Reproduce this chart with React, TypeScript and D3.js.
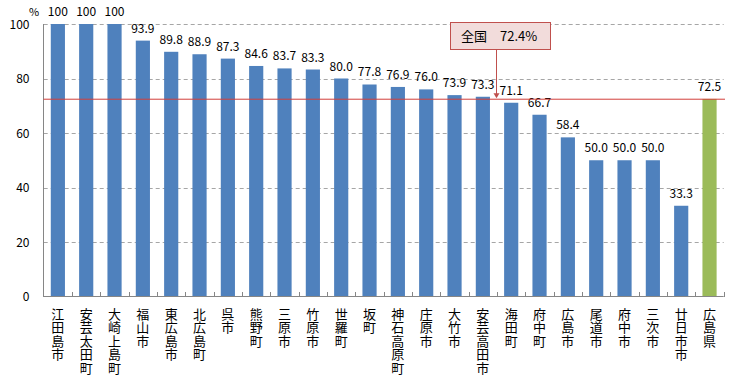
import React from "react";
import * as d3 from "d3";

const categories = [
  "江田島市", "安芸太田町", "大崎上島町", "福山市", "東広島市", "北広島町", "呉市", "熊野町",
  "三原市", "竹原市", "世羅町", "坂町", "神石高原町", "庄原市", "大竹市", "安芸高田市",
  "海田町", "府中町", "広島市", "尾道市", "府中市", "三次市", "廿日市市", "広島県",
];
const values = [
  100, 100, 100, 93.9, 89.8, 88.9, 87.3, 84.6, 83.7, 83.3, 80.0, 77.8, 76.9, 76.0, 73.9, 73.3,
  71.1, 66.7, 58.4, 50.0, 50.0, 50.0, 33.3, 72.5,
];
const valueLabels = [
  "100", "100", "100", "93.9", "89.8", "88.9", "87.3", "84.6", "83.7", "83.3", "80.0", "77.8",
  "76.9", "76.0", "73.9", "73.3", "71.1", "66.7", "58.4", "50.0", "50.0", "50.0", "33.3", "72.5",
];
const highlight = "広島県";
const nationalValue = 72.4;
const nationalLabel = "全国";
const yTicks = [0, 20, 40, 60, 80, 100];

const FONT = "'Noto Sans CJK JP', sans-serif";

export default function App() {
  const left = 43.7;
  const right = 723.7;
  const x = d3
    .scaleBand<string>()
    .domain(categories)
    .range([left, right])
    .paddingInner(0.5)
    .paddingOuter(0.25);
  const y = d3.scaleLinear().domain([0, 100]).range([296.5, 24]);
  const step = x.step();

  const ny = y(nationalValue);
  const boxX = 450.5, boxY = 22.5, boxW = 100, boxH = 27;
  const arrowX = 496.5;

  return (
    <div style={{ position: "absolute", left: 0, top: 0 }}>
      <svg width={756} height={379} style={{ display: "block", fontFamily: FONT }}>
        <rect x={0} y={0} width={756} height={379} fill="#fff" />
        {yTicks.filter((t) => t > 0).map((t) => (
          <line
            key={"g" + t}
            x1={left}
            x2={right}
            y1={Math.round(y(t)) + 0.5}
            y2={Math.round(y(t)) + 0.5}
            stroke="#a6a6a6"
            strokeDasharray="4,3"
          />
        ))}
        {yTicks.map((t) => (
          <text key={"yt" + t} x={29.5} y={y(t) + 4.5} textAnchor="end" fontSize={12} fill="#000">
            {t}
          </text>
        ))}
        <text x={34} y={15.5} textAnchor="middle" fontSize={11} fill="#000">%</text>
        {categories.map((c, i) => (
          <rect
            key={"b" + c}
            x={x(c)}
            y={y(values[i])}
            width={x.bandwidth()}
            height={y(0) - y(values[i])}
            fill={c === highlight ? "#9bbb59" : "#4f81bd"}
          />
        ))}
        {categories.map((c, i) => (
          <text
            key={"v" + c}
            x={(x(c) as number) + x.bandwidth() / 2}
            y={y(values[i]) - 8}
            textAnchor="middle"
            fontSize={12}
            fill="#000"
          >
            {valueLabels[i]}
          </text>
        ))}
        <line x1={43.5} x2={43.5} y1={24} y2={297} stroke="#868686" />
        <line x1={43.5} x2={right} y1={296.5} y2={296.5} stroke="#868686" />
        {categories.map((c, i) => {
          const tx = Math.round(left + step * (i + 1)) + 0.5;
          return <line key={"t" + c} x1={tx} x2={tx} y1={292} y2={297} stroke="#868686" />;
        })}
        <line x1={43.5} x2={725} y1={ny} y2={ny} stroke="#d23f3b" strokeWidth={1} />
        <rect x={boxX} y={boxY} width={boxW} height={boxH} fill="#f2dcdb" stroke="#c0504d" strokeWidth={1} />
        <text x={461} y={41} fontSize={13} fill="#000">{nationalLabel}</text>
        <text x={500} y={41} fontSize={13} fill="#000">{nationalValue.toFixed(1)}%</text>
        <line x1={arrowX} x2={arrowX} y1={boxY + boxH} y2={ny - 4} stroke="#c0504d" />
        <path d={`M${arrowX - 3},${ny - 6} L${arrowX + 3},${ny - 6} L${arrowX},${ny - 1} Z`} fill="#c0504d" />
        {categories.map((c) => {
          const cx = (x(c) as number) + x.bandwidth() / 2;
          return (
            <text
              key={"c" + c}
              x={cx}
              y={307.5}
              fontSize={13}
              fill="#000"
              style={{ writingMode: "vertical-rl", textOrientation: "upright", letterSpacing: "0.4px" } as any}
            >
              {c}
            </text>
          );
        })}
      </svg>
    </div>
  );
}
